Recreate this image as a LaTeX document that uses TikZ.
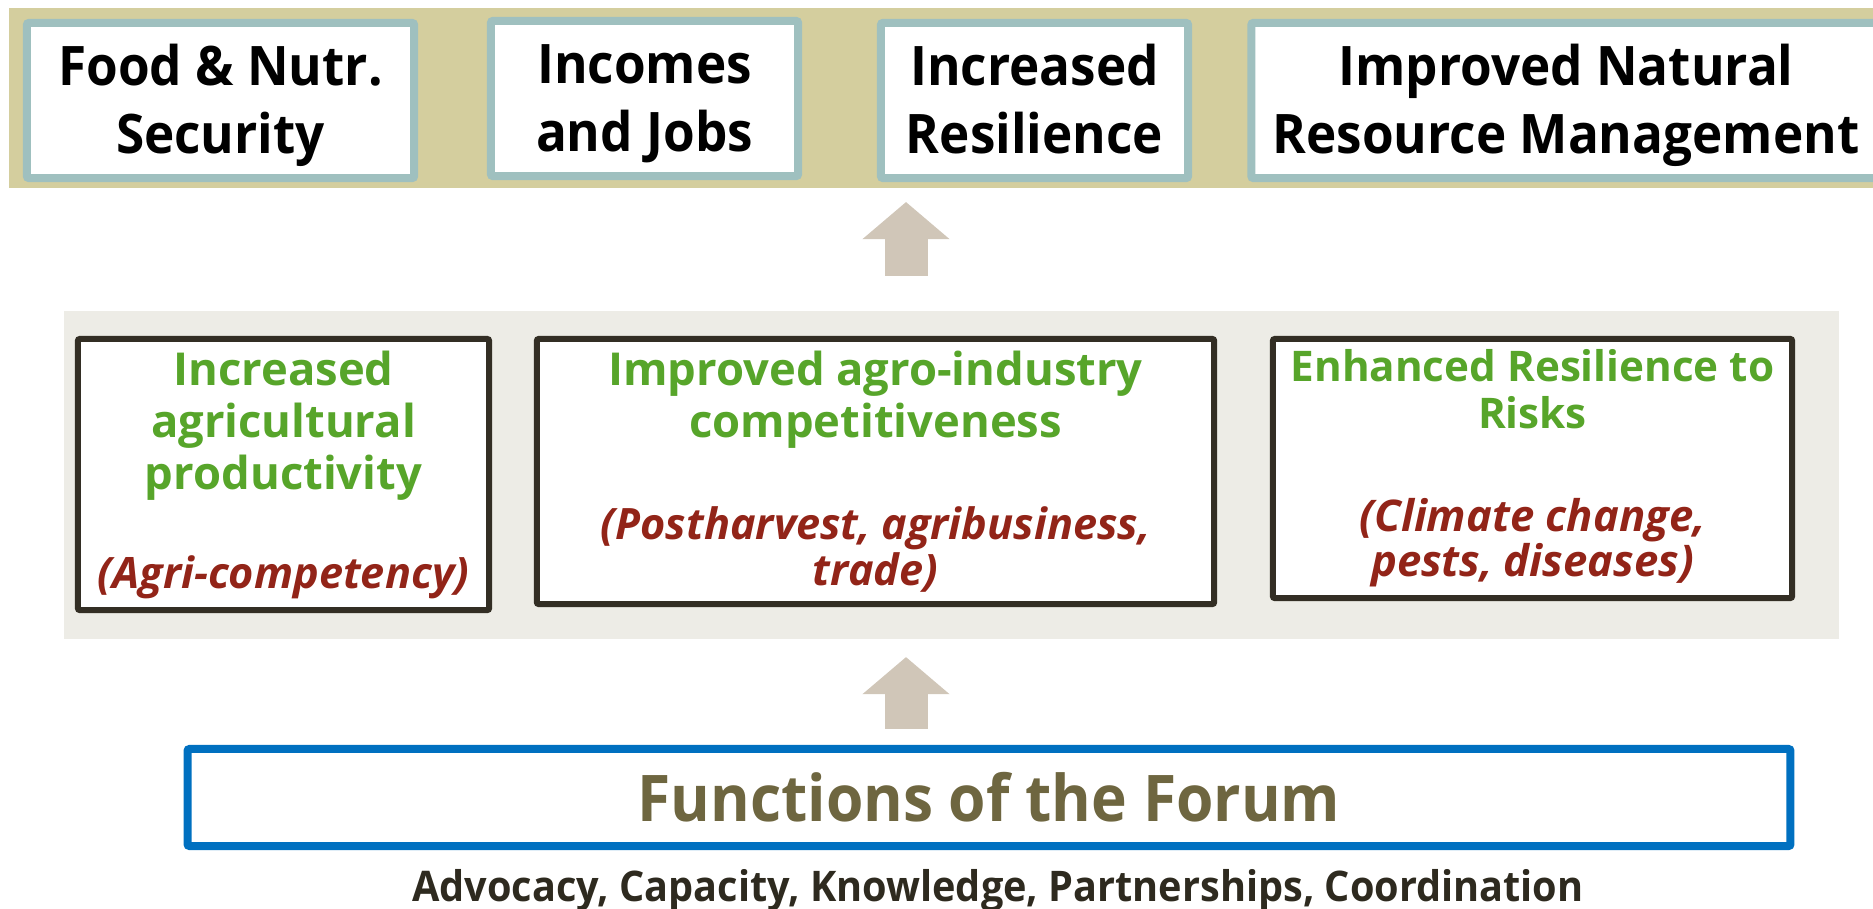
\documentclass[tikz,border=0pt]{standalone}
\usepackage{fontspec}
\setmainfont{Open Sans}
\newfontfamily\narrowfont[FakeStretch=0.94]{Open Sans}
\usetikzlibrary{positioning,arrows.meta}

\definecolor{bandtan}{HTML}{D4CE9E}
\definecolor{boxteal}{HTML}{9FC0BF}
\definecolor{arrowtan}{HTML}{D0C6B8}
\definecolor{bandgray}{HTML}{EDECE6}
\definecolor{boxdark}{HTML}{332E24}
\definecolor{titlegreen}{HTML}{57A52A}
\definecolor{notered}{HTML}{922418}
\definecolor{forumblue}{HTML}{0070C0}
\definecolor{forumolive}{HTML}{6E6640}
\definecolor{listdark}{HTML}{2E2A1F}

% invisible rules that put the two goal lines at the right height
\newcommand{\goaltop}{\rule{0pt}{15.6pt}}
\newcommand{\goalbottom}{\rule[-4.8pt]{0pt}{4.8pt}}

\begin{document}
\begin{tikzpicture}[x=0.01cm,y=-0.01cm,
    band/.style={fill=#1,inner sep=0pt,outer sep=0pt},
    goalbox/.style={draw=boxteal,fill=white,line width=0.08cm,rounded corners=0.02cm,
        minimum height=1.55cm,align=center,inner sep=0pt,
        font=\narrowfont\bfseries\fontsize{15.5}{19.1}\selectfont},
    areabox/.style={draw=boxdark,fill=white,line width=0.06cm,rounded corners=0.02cm,inner sep=0pt},
    areatitle/.style={align=center,inner sep=0pt,text=titlegreen,
        font=\bfseries\fontsize{12.9}{14.8}\selectfont},
    areanote/.style={align=center,inner sep=0pt,text=notered,
        font=\bfseries\itshape\fontsize{12.3}{13.1}\selectfont},
    uparrow/.style={draw=arrowtan,line width=0.43cm,
        -{Triangle[width=0.87cm,length=0.37cm,line width=0pt,fill=arrowtan]}}]
\useasboundingbox (0,0) rectangle (1873,908);

% outcomes band
\node[band=bandtan,minimum width=18.63cm,minimum height=1.80cm] (goalband) at (941.5,98) {};
\node[goalbox,minimum width=3.87cm] (food) at (220.5,100.5) {\goaltop Food \& Nutr.\\Security\goalbottom};
\node[goalbox,minimum width=3.07cm] (income) at (644.5,98.5) {\goaltop Incomes\\and Jobs\goalbottom};
\node[goalbox,minimum width=3.07cm] (resil) at (1034.5,100.5) {\goaltop Increased\\Resilience\goalbottom};
\node[goalbox,minimum width=6.29cm] (nrm) at (1566,100.5) {\goaltop Improved Natural\\Resource Management\goalbottom};

% result areas
\node[band=bandgray,minimum width=17.73cm,minimum height=3.28cm] (areaband) at (951.5,475) {};
\node[areabox,minimum width=4.11cm,minimum height=2.71cm] (prod) at (283.5,474.5) {};
\node[areabox,minimum width=6.77cm,minimum height=2.65cm] (comp) at (875.5,471.5) {};
\node[areabox,minimum width=5.19cm,minimum height=2.59cm] (risk) at (1532.5,468.5) {};

\node[areatitle,below=0.14cm of prod.north] (prodtitle) {Increased\\agricultural\\productivity};
\node[areanote,above=0.13cm of prod.south] (prodnote) {(Agri-competency)};
\node[areatitle,below=0.14cm of comp.north] (comptitle) {Improved agro-industry\\competitiveness};
\node[areanote,above=0.14cm of comp.south] (compnote) {(Postharvest, agribusiness,\\trade)};
\node[areatitle,font=\bfseries\fontsize{12}{13.4}\selectfont,below=0.13cm of risk.north] (risktitle) {Enhanced Resilience to\\Risks};
\node[areanote,font=\bfseries\itshape\fontsize{12.4}{12.8}\selectfont,above=0.13cm of risk.south] (risknote) {(Climate change,\\pests, diseases)};

% forum functions
\node[draw=forumblue,line width=0.08cm,rounded corners=0.02cm,minimum width=16.02cm,minimum height=0.97cm,
    inner sep=0pt,text=forumolive,font=\narrowfont\bfseries\fontsize{18.3}{22}\selectfont] (forum) at (989,797.5) {Functions of the Forum};
\node[anchor=base,inner sep=0pt,text=listdark,font=\narrowfont\bfseries\fontsize{12}{14}\selectfont]
    (functions) at ([xshift=0.09cm,yshift=-0.51cm]forum.south) {Advocacy, Capacity, Knowledge, Partnerships, Coordination};

% arrows
\coordinate (arrowx) at (906,0);
\draw[uparrow,shorten <=0.35cm,shorten >=0.14cm] (areaband.north -| arrowx) -- (goalband.south -| arrowx);
\draw[uparrow,shorten <=0.16cm,shorten >=0.18cm] (forum.north -| arrowx) -- (areaband.south -| arrowx);
\end{tikzpicture}
\end{document}
